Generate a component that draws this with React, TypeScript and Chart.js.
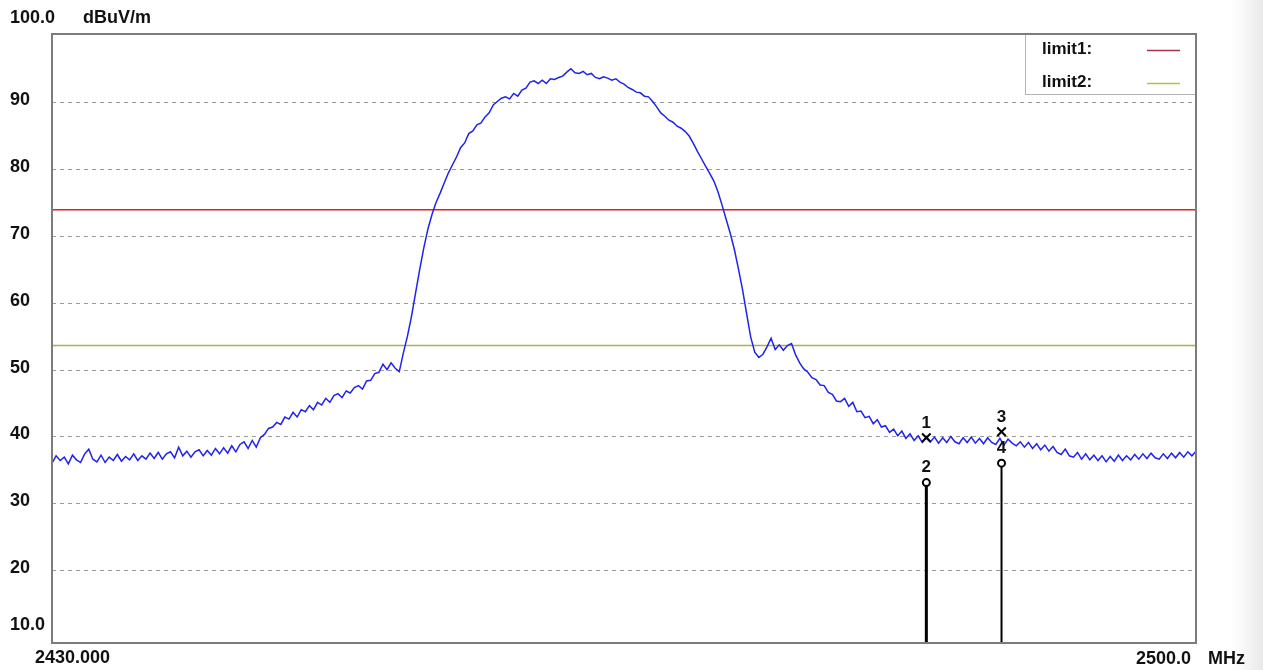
import React, { useEffect, useRef } from "react";
import { Chart, registerables } from "chart.js";

Chart.register(...registerables);

// ---------- data ----------
const FREQ_START_MHZ = 2430;
const FREQ_STOP_MHZ = 2500;
const FREQ_STEP_MHZ = 0.25;
const Y_MIN = 9.1;
const Y_MAX = 100.2;
const Y_GRID_VALUES = [20, 30, 40, 50, 60, 70, 80, 90];
const Y_TICK_VALUES = [100, 90, 80, 70, 60, 50, 40, 30, 20, 10];
const Y_TICK_LABELS = ["100.0", "90", "80", "70", "60", "50", "40", "30", "20", "10.0"];
const Y_UNIT = "dBuV/m";
const X_START_LABEL = "2430.000";
const X_STOP_LABEL = "2500.0";
const X_UNIT = "MHz";

const LEVEL_DBUV = [
  36.0, 37.1, 36.4, 36.9, 35.9, 37.2, 36.5, 36.1, 37.4, 38.1,
  36.6, 36.2, 37.2, 36.1, 36.9, 36.4, 37.3, 36.3, 37.0, 36.5,
  37.4, 36.4, 37.1, 36.6, 37.5, 36.7, 37.6, 36.6, 37.4, 37.7,
  36.8, 38.4, 37.1, 37.8, 36.9, 37.7, 38.0, 37.1, 37.9, 37.2,
  38.2, 37.4, 38.3, 37.5, 38.6, 37.7, 38.8, 39.2, 38.2, 39.4,
  38.4, 39.8, 40.3, 41.2, 41.4, 42.1, 41.8, 42.9, 42.6, 43.6,
  42.9, 44.0, 43.7, 44.6, 44.0, 45.1, 44.7, 45.7, 45.1, 46.1,
  46.4, 45.8, 46.8, 46.5, 47.3, 47.6, 47.1, 48.3, 48.4, 49.4,
  49.6, 50.8, 50.0, 51.0, 50.2, 49.7, 52.5, 55.0, 58.0, 61.5,
  65.0, 68.2, 71.0, 73.2, 75.0, 76.4, 77.9, 79.4, 80.6, 81.8,
  83.2, 83.9, 85.3, 85.7, 86.6, 86.9, 87.8, 88.4, 89.6, 90.1,
  90.6, 90.8, 90.5, 91.3, 90.9, 91.8, 92.1, 93.0, 93.2, 92.8,
  93.3, 92.8, 93.5, 93.4, 93.7, 93.9, 94.5, 95.0, 94.4, 94.3,
  94.6, 94.1, 94.3, 93.7, 93.5, 93.8, 93.6, 93.3, 93.5, 93.0,
  92.7, 92.2, 91.9, 91.5, 91.4, 90.9, 90.8, 90.1, 89.3, 88.4,
  87.9, 87.3, 87.0, 86.4, 86.1, 85.6, 84.9, 83.8, 82.6, 81.5,
  80.4, 79.3, 78.2, 76.6, 74.6, 72.5, 70.4, 68.0, 65.1, 62.0,
  58.4, 54.9, 52.6, 51.8, 52.3, 53.4, 54.7, 53.0, 53.7, 52.9,
  53.6, 53.9, 52.2, 51.0, 50.1, 49.6, 48.8, 48.5, 47.7, 47.6,
  46.6, 46.3, 45.3, 45.2, 45.7, 44.5, 45.1, 43.7, 43.8, 42.8,
  43.0, 41.9, 42.5, 41.4, 41.6, 40.6, 41.1, 40.1, 40.8, 39.7,
  40.4, 39.4, 40.1, 39.1, 40.0, 39.2, 39.9, 39.0, 39.8, 39.1,
  40.0, 39.2, 38.9, 39.8, 39.1, 39.9, 39.0, 39.7, 38.9, 39.8,
  39.1, 38.8, 39.7, 38.7, 39.6, 39.0, 38.6, 39.2, 38.4, 39.1,
  38.2, 38.9, 38.0, 38.7, 37.8, 38.5, 37.6, 37.3, 38.1, 37.1,
  36.9, 37.6, 36.6, 37.4, 36.5, 37.2, 36.4, 37.1, 36.2, 37.0,
  36.3, 37.2, 36.4, 37.1, 36.5, 37.3, 36.6, 37.4, 36.7, 37.5,
  36.8, 36.6, 37.4, 36.7, 37.5, 36.8, 37.6, 36.9, 37.7, 37.1,
  37.8,
];

const LIMIT_NAMES = ["limit1:", "limit2:"];
const LIMIT_LEVELS = [73.9, 53.6];

const MARKER_IDS = ["1", "2", "3", "4"];
const MARKER_FREQS = [2483.5, 2483.5, 2488.1, 2488.1];
const MARKER_LEVELS = [39.8, 33.1, 40.7, 36.0];
const MARKER_KINDS = ["peak", "avg", "peak", "avg"];

// ---------- component ----------
const FONT = "'Liberation Sans', Arial, sans-serif";

export default function App() {
  const ref = useRef<HTMLCanvasElement | null>(null);

  useEffect(() => {
    document.body.style.margin = "0";
    const canvas = ref.current;
    if (!canvas) return;

    const trace = LEVEL_DBUV.map((v, i) => ({ x: FREQ_START_MHZ + i * FREQ_STEP_MHZ, y: v }));

    const limitColors = ["#e81c1c", "#a8b248"];
    const legendColors = ["#a8344a", "#b8c23a"];

    const datasets: any[] = [];

    MARKER_IDS.forEach((id, k) => {
      datasets.push({
        type: "scatter",
        label: "marker" + id,
        data: [{ x: MARKER_FREQS[k], y: MARKER_LEVELS[k] }],
        pointStyle: MARKER_KINDS[k] === "peak" ? "crossRot" : "circle",
        pointRadius: MARKER_KINDS[k] === "peak" ? 6 : 3.5,
        borderColor: "#000",
        backgroundColor: "#fff",
        pointBorderWidth: 2,
        order: 0,
      });
    });
    MARKER_IDS.forEach((id, k) => {
      if (MARKER_KINDS[k] !== "avg") return;
      datasets.push({
        type: "line",
        label: "drop" + id,
        data: [
          { x: MARKER_FREQS[k], y: MARKER_LEVELS[k] },
          { x: MARKER_FREQS[k], y: Y_MIN },
        ],
        borderColor: "#000",
        borderWidth: k === 1 ? 3 : 2,
        pointRadius: 0,
        order: 1,
      });
    });
    datasets.push({
      type: "line",
      label: "trace",
      data: trace,
      borderColor: "#2222ee",
      borderWidth: 1.5,
      pointRadius: 0,
      tension: 0,
      order: 2,
    });
    LIMIT_LEVELS.forEach((lv, k) => {
      datasets.push({
        type: "line",
        label: LIMIT_NAMES[k],
        data: [
          { x: FREQ_START_MHZ, y: lv },
          { x: FREQ_STOP_MHZ, y: lv },
        ],
        borderColor: limitColors[k],
        borderWidth: 1.5,
        pointRadius: 0,
        order: 3,
      });
    });

    const decor = {
      id: "decor",
      beforeDraw(chart: any) {
        const { ctx, chartArea: a, scales } = chart;
        ctx.save();
        ctx.fillStyle = "#ffffff";
        ctx.fillRect(0, 0, chart.width, chart.height);
        const g = ctx.createLinearGradient(1232, 0, chart.width, 0);
        g.addColorStop(0, "rgba(236,236,236,0)");
        g.addColorStop(1, "rgba(232,232,232,1)");
        ctx.fillStyle = g;
        ctx.fillRect(1232, 0, chart.width - 1232, chart.height);
        // grid
        ctx.strokeStyle = "#9a9a9a";
        ctx.lineWidth = 1;
        ctx.setLineDash([4, 4]);
        Y_GRID_VALUES.forEach((v) => {
          const y = Math.round(scales.y.getPixelForValue(v)) + 0.5;
          ctx.beginPath();
          ctx.moveTo(a.left, y);
          ctx.lineTo(a.right, y);
          ctx.stroke();
        });
        ctx.setLineDash([]);
        // axis text
        ctx.fillStyle = "#111";
        ctx.font = `bold 18px ${FONT}`;
        ctx.textBaseline = "middle";
        ctx.textAlign = "left";
        Y_TICK_VALUES.forEach((v, k) => {
          let y = scales.y.getPixelForValue(v) - 2;
          if (k === 0) y = a.top - 16;
          if (k === Y_TICK_VALUES.length - 1) y = scales.y.getPixelForValue(v) - 12;
          ctx.fillText(Y_TICK_LABELS[k], 10, y);
        });
        ctx.fillText(Y_UNIT, 83, a.top - 16);
        ctx.fillText(X_START_LABEL, 35, a.bottom + 15);
        ctx.textAlign = "right";
        ctx.fillText(X_STOP_LABEL, a.right - 5, a.bottom + 16);
        ctx.textAlign = "left";
        ctx.fillText(X_UNIT, a.right + 12, a.bottom + 16);
        ctx.restore();
      },
      afterDraw(chart: any) {
        const { ctx, chartArea: a, scales } = chart;
        ctx.save();
        ctx.fillStyle = "#111";
        ctx.font = `bold 17px ${FONT}`;
        ctx.textAlign = "center";
        ctx.textBaseline = "middle";
        MARKER_IDS.forEach((id, k) => {
          const x = scales.x.getPixelForValue(MARKER_FREQS[k]);
          const y = scales.y.getPixelForValue(MARKER_LEVELS[k]);
          ctx.fillText(id, x, y - (MARKER_KINDS[k] === "peak" ? 14 : 15));
        });
        // legend box
        const lx = 1025, ly = a.top, lw = a.right - 1025, lh = 61;
        ctx.fillStyle = "#ffffff";
        ctx.fillRect(lx, ly, lw, lh);
        ctx.strokeStyle = "#b4b4b4";
        ctx.lineWidth = 1;
        ctx.strokeRect(lx + 0.5, ly + 0.5, lw - 1, lh - 1);
        ctx.font = `bold 17px ${FONT}`;
        ctx.textAlign = "left";
        ctx.fillStyle = "#111";
        LIMIT_NAMES.forEach((nm, k) => {
          const yy = ly + 15 + k * 33;
          ctx.fillText(nm, 1042, yy);
          ctx.strokeStyle = legendColors[k];
          ctx.lineWidth = 1.5;
          ctx.beginPath();
          ctx.moveTo(1147, yy + 1.5);
          ctx.lineTo(1180, yy + 1.5);
          ctx.stroke();
        });
        // frame
        ctx.strokeStyle = "#7c7c7c";
        ctx.lineWidth = 2;
        ctx.strokeRect(a.left, a.top, a.right - a.left, a.bottom - a.top);
        ctx.restore();
      },
    };

    const chart = new Chart(canvas, {
      type: "line",
      data: { datasets },
      options: {
        animation: false,
        responsive: false,
        maintainAspectRatio: false,
        layout: { padding: { left: 52, top: 34, right: 67, bottom: 27 } },
        plugins: { legend: { display: false }, tooltip: { enabled: false }, title: { display: false } },
        events: [],
        scales: {
          x: {
            type: "linear",
            min: FREQ_START_MHZ,
            max: FREQ_STOP_MHZ,
            ticks: { display: false },
            grid: { display: false, drawTicks: false },
            border: { display: false },
          },
          y: {
            type: "linear",
            min: Y_MIN,
            max: Y_MAX,
            ticks: { display: false },
            grid: { display: false, drawTicks: false },
            border: { display: false },
          },
        },
      },
      plugins: [decor],
    });
    return () => chart.destroy();
  }, []);

  return <canvas ref={ref} width={1263} height={670} style={{ display: "block" }} />;
}
